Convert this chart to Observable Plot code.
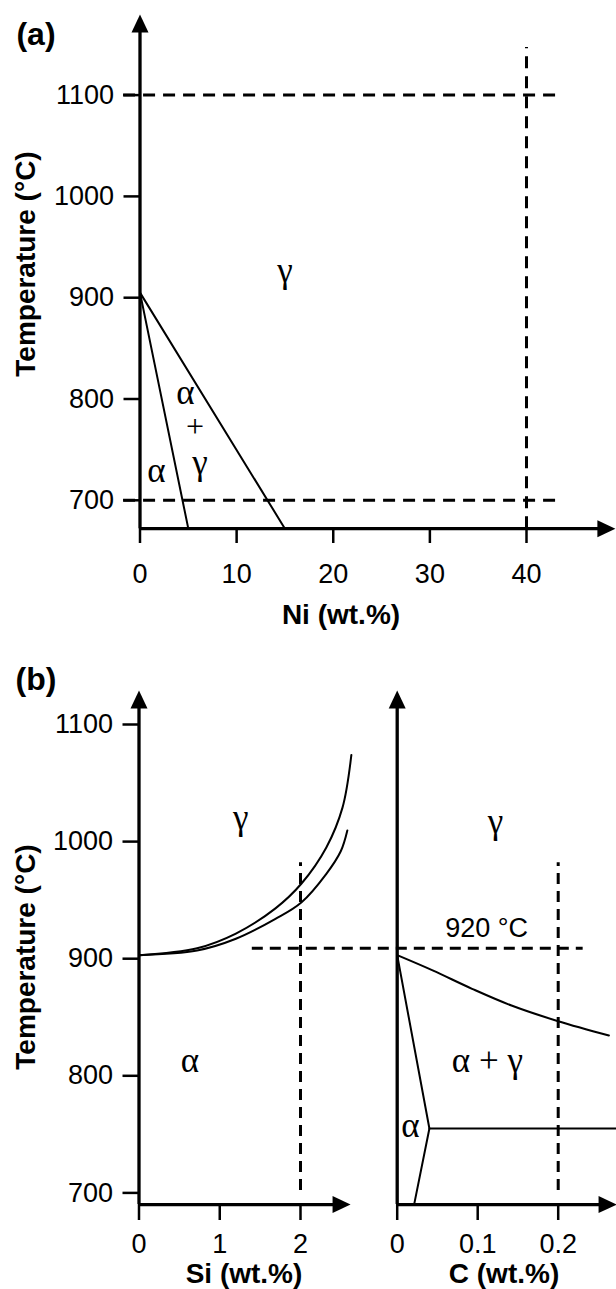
<!DOCTYPE html>
<html><head><meta charset="utf-8">
<script src="https://cdn.jsdelivr.net/npm/d3@7"></script>
<script src="https://cdn.jsdelivr.net/npm/@observablehq/plot@0.6"></script>
<style>
html,body{margin:0;padding:0;background:#fff;}
#page{position:relative;width:616px;height:1289px;overflow:hidden;font-family:"Liberation Sans",Arial,sans-serif;color:#000;background:#fff;}
#page svg{position:absolute;left:0;top:0;}
.lbl{position:absolute;font-weight:bold;font-size:28px;line-height:1;white-space:nowrap;transform:translate(-50%,-50%);}
.rot{transform:translate(-50%,-50%) rotate(-90deg);}
</style></head><body><div id="page"></div>
<script>
// ---------------- data ----------------
const tempTicks = [700, 800, 900, 1000, 1100];
// panel (a) Fe–Ni
const niTicks = [0, 10, 20, 30, 40];
const niAlphaBoundary = [{ni: 0, t: 905}, {ni: 5, t: 672}];
const niGammaBoundary = [{ni: 0, t: 905}, {ni: 15, t: 672}];
const niDashedTemps = [1100, 700];
const niDashedComps = [40];
const niPhaseLabels = [
  {ni: 15.0, t: 927, text: "γ"},
  {ni: 1.7, t: 729, text: "α"},
  {ni: 4.7, t: 806, text: "α"},
  {ni: 6.2, t: 737, text: "γ"}
];
const niPlusLabel = [{ni: 5.7, t: 772.5, text: "+"}];
// panel (b) Fe–Si
const siTicks = [0, 1, 2];
const siUpper = [
  {si: 0, t: 903}, {si: 0.72, t: 909}, {si: 1.2, t: 921.5}, {si: 1.69, t: 943},
  {si: 2.01, t: 964}, {si: 2.32, t: 995}, {si: 2.52, t: 1029}, {si: 2.63, t: 1074}
];
const siLower = [
  {si: 0, t: 903}, {si: 0.72, t: 907}, {si: 1.2, t: 917}, {si: 1.69, t: 934},
  {si: 2.01, t: 948}, {si: 2.32, t: 972.5}, {si: 2.5, t: 992}, {si: 2.58, t: 1009.5}
];
const siDashedComps = [2];
const siPhaseLabels = [
  {si: 1.26, t: 1020, text: "γ"},
  {si: 0.63, t: 813, text: "α"}
];
// panel (b) Fe–C
const cTicks = [0, 0.1, 0.2];
const cA3 = [
  {c: 0, t: 903}, {c: 0.044, t: 890}, {c: 0.093, t: 874.3}, {c: 0.142, t: 860},
  {c: 0.2, t: 846.6}, {c: 0.263, t: 834.4}
];
const cAlphaBoundary = [{c: 0, t: 903}, {c: 0.04, t: 755}, {c: 0.021, t: 690}];
const cEutectoid = [{c: 0.04, t: 755}, {c: 0.2725, t: 755}];
const cDashedComps = [0.2];
const refTemp = 909;           // dashed "920 °C" line as drawn
const refLabel = [{c: 0.111, t: 926, text: "920 °C"}];
const cPhaseLabels = [
  {c: 0.122, t: 1017, text: "γ"},
  {c: 0.112, t: 813, text: "α + γ"},
  {c: 0.0165, t: 757.5, text: "α"}
];

// ---------------- drawing ----------------
const W = 616, H = 1289;
const page = document.getElementById("page");
const base = {
  width: W, height: H, marginTop: 0, marginRight: 0,
  style: {background: "none", fontFamily: "'Liberation Sans', Arial, sans-serif", overflow: "visible"}
};
const dash = {stroke: "black", strokeWidth: 3, strokeDasharray: "12,8"};
const dashB = {stroke: "black", strokeWidth: 3, strokeDasharray: "11,7"};
const axisLine = {stroke: "black", strokeWidth: 3.3};
const head = (rot) => ({x: "x", y: "y", anchor: "end", shape: "spike", length: 18, r: 8.5, rotate: rot, fill: "black", stroke: "none"});
const fmt = (d) => `${d}`;
const greek = {fontFamily: "'Liberation Serif', 'Times New Roman', serif", fontSize: 35, fill: "black"};

// panel (a)
const tMinA = 672;
const plotA = Plot.plot({
  ...base,
  marginLeft: 139.5, marginBottom: H - 528,
  x: {domain: [0, 40], range: [139.5, 526]},
  y: {domain: [700, 1100], range: [499.8, 94.6]},
  marks: [
    Plot.ruleY(niDashedTemps, {x1: -1.7, x2: 43.3, ...dash}),
    Plot.ruleX(niDashedComps, {y1: tMinA, y2: 1147, ...dash}),
    Plot.line(niAlphaBoundary, {x: "ni", y: "t", stroke: "black", strokeWidth: 2}),
    Plot.line(niGammaBoundary, {x: "ni", y: "t", stroke: "black", strokeWidth: 2}),
    Plot.ruleX([0], {y1: tMinA, y2: 1165, ...axisLine}),
    Plot.ruleY([tMinA], {x1: 0, x2: 48, ...axisLine}),
    Plot.vector([{x: 0, y: 1179.5}], head(0)),
    Plot.vector([{x: 49.2, y: tMinA}], head(90)),
    Plot.axisY(tempTicks, {anchor: "left", tickSize: 16, tickPadding: 10, fontSize: 27, strokeWidth: 2.5, tickFormat: fmt, label: null}),
    Plot.axisX(niTicks, {anchor: "bottom", tickSize: 15, tickPadding: 20, fontSize: 27, strokeWidth: 2.5, tickFormat: fmt, label: null}),
    Plot.text(niPhaseLabels, {x: "ni", y: "t", text: "text", ...greek}),
    Plot.text(niPlusLabel, {x: "ni", y: "t", text: "text", ...greek, fontSize: 32})
  ]
});
page.appendChild(plotA);

// panel (b) left: Si
const tMinB = 690;
const yB = {domain: [700, 1100], range: [1192.4, 724]};
const plotSi = Plot.plot({
  ...base,
  marginLeft: 138.5, marginBottom: H - 1204,
  x: {domain: [0, 2], range: [138.5, 300]},
  y: yB,
  marks: [
    Plot.ruleX(siDashedComps, {y1: 702, y2: 982, ...dashB}),
    Plot.line(siUpper, {x: "si", y: "t", stroke: "black", strokeWidth: 2, curve: "catmull-rom"}),
    Plot.line(siLower, {x: "si", y: "t", stroke: "black", strokeWidth: 2, curve: "catmull-rom"}),
    Plot.ruleX([0], {y1: tMinB, y2: 1116, ...axisLine}),
    Plot.ruleY([tMinB], {x1: 0, x2: 2.45, ...axisLine}),
    Plot.vector([{x: 0, y: 1129}], head(0)),
    Plot.vector([{x: 2.62, y: tMinB}], head(90)),
    Plot.axisY(tempTicks, {anchor: "left", tickSize: 16, tickPadding: 10, fontSize: 27, strokeWidth: 2.5, tickFormat: fmt, label: null}),
    Plot.axisX(siTicks, {anchor: "bottom", tickSize: 16, tickPadding: 13, fontSize: 27, strokeWidth: 2.5, tickFormat: fmt, label: null}),
    Plot.text(siPhaseLabels, {x: "si", y: "t", text: "text", ...greek})
  ]
});
page.appendChild(plotSi);

// panel (b) right: C
const plotC = Plot.plot({
  ...base,
  marginLeft: 396.7, marginBottom: H - 1204,
  x: {domain: [0, 0.2], range: [396.7, 557.7]},
  y: {...yB, axis: null},
  marks: [
    Plot.ruleY([refTemp], {x1: -0.18, x2: 0.231, ...dashB}),
    Plot.ruleX(cDashedComps, {y1: 702, y2: 982, ...dashB}),
    Plot.line(cA3, {x: "c", y: "t", stroke: "black", strokeWidth: 2, curve: "catmull-rom"}),
    Plot.line(cAlphaBoundary, {x: "c", y: "t", stroke: "black", strokeWidth: 2}),
    Plot.line(cEutectoid, {x: "c", y: "t", stroke: "black", strokeWidth: 2}),
    Plot.ruleX([0], {y1: tMinB, y2: 1116, ...axisLine}),
    Plot.ruleY([tMinB], {x1: 0, x2: 0.255, ...axisLine}),
    Plot.vector([{x: 0, y: 1129}], head(0)),
    Plot.vector([{x: 0.2725, y: tMinB}], head(90)),
    Plot.axisX(cTicks, {anchor: "bottom", tickSize: 16, tickPadding: 13, fontSize: 27, strokeWidth: 2.5, tickFormat: fmt, label: null}),
    Plot.text(refLabel, {x: "c", y: "t", text: "text", fontSize: 27, fill: "black"}),
    Plot.text(cPhaseLabels, {x: "c", y: "t", text: "text", ...greek})
  ]
});
page.appendChild(plotC);

// titles and axis labels
const labels = [
  {text: "(a)", x: 36, y: 34, size: 32},
  {text: "(b)", x: 36, y: 679, size: 32},
  {text: "Temperature (°C)", x: 26, y: 264, rot: true},
  {text: "Temperature (°C)", x: 26, y: 957, rot: true},
  {text: "Ni (wt.%)", x: 341, y: 615},
  {text: "Si (wt.%)", x: 244, y: 1274},
  {text: "C (wt.%)", x: 504, y: 1274}
];
for (const l of labels) {
  const d = document.createElement("div");
  d.className = "lbl" + (l.rot ? " rot" : "");
  d.textContent = l.text;
  d.style.left = l.x + "px";
  d.style.top = l.y + "px";
  if (l.size) d.style.fontSize = l.size + "px";
  page.appendChild(d);
}
</script></body></html>
